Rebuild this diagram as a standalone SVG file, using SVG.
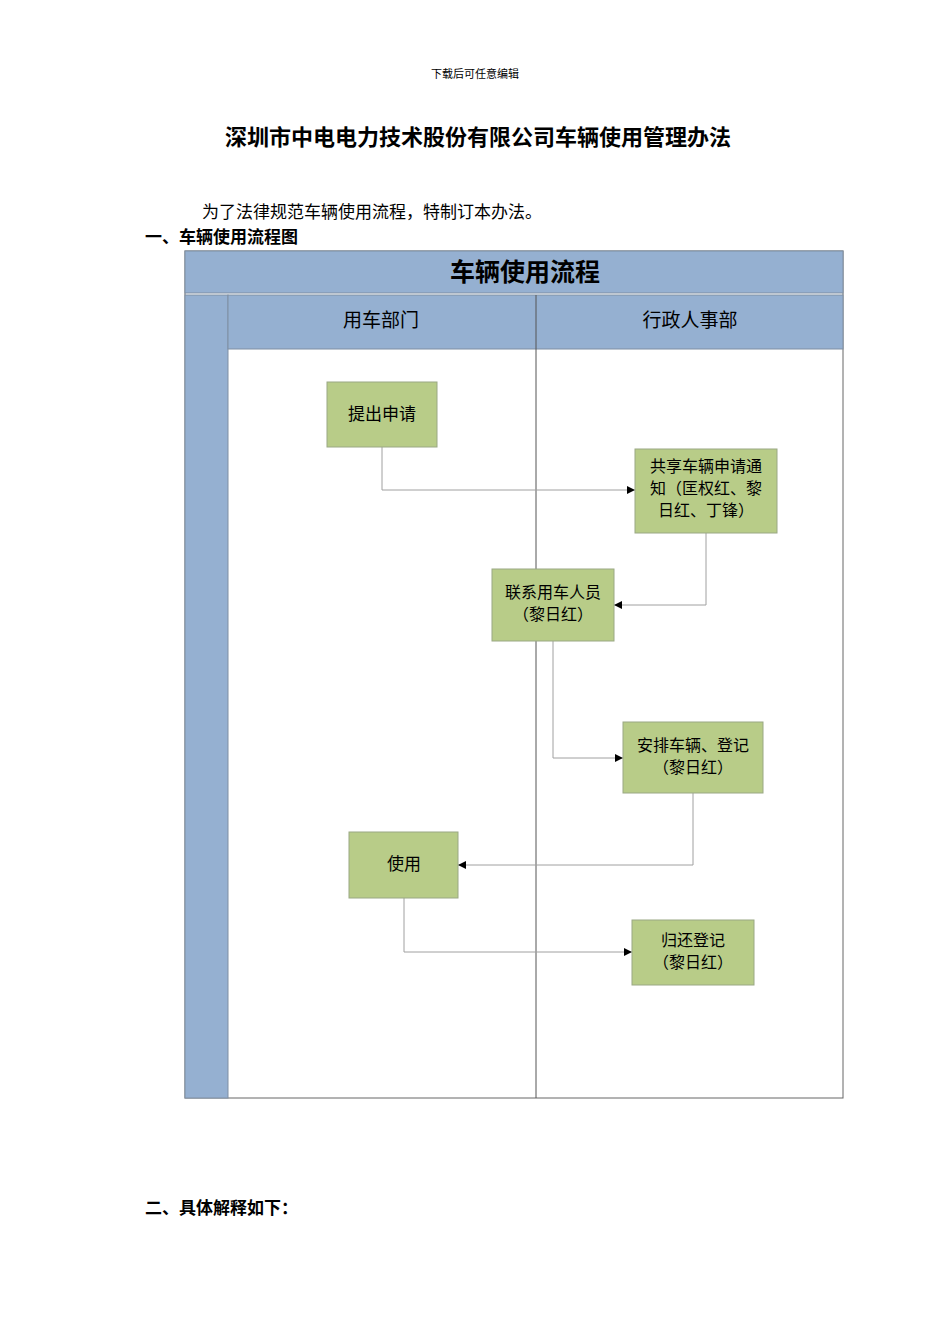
<svg xmlns="http://www.w3.org/2000/svg" width="950" height="1344" viewBox="0 0 950 1344">
<style>
.t{font-family:"Noto Sans CJK SC","Noto Sans",sans-serif;fill:#000}
.s{font-family:"Noto Sans CJK SC",serif}
.n{fill:#b8cc88;stroke:#9aa884;stroke-width:1}
.c{fill:none;stroke:#a0a0a0;stroke-width:1}
.bl{fill:#95b0d1;stroke:#7f8fa3;stroke-width:1}
</style>
<defs><marker id="a" markerWidth="8" markerHeight="8" refX="8" refY="4" orient="auto" markerUnits="userSpaceOnUse"><path d="M0,0L8,4L0,8z" fill="#000"/></marker></defs>
<rect width="950" height="1344" fill="#fff"/>
<text x="475" y="78" font-size="11" text-anchor="middle" class="t s" fill="#333">下载后可任意编辑</text>
<text x="478" y="145" font-size="22" font-weight="bold" text-anchor="middle" class="t s">深圳市中电电力技术股份有限公司车辆使用管理办法</text>
<text x="202" y="218" font-size="17" class="t s">为了法律规范车辆使用流程，特制订本办法。</text>
<text x="145" y="243" font-size="17" font-weight="bold" class="t s">一、车辆使用流程图</text>
<text x="145" y="1214" font-size="17" font-weight="bold" class="t s">二、具体解释如下：</text>
<g id="pool">
<rect x="185" y="251" width="658" height="847" fill="#fff" stroke="#666"/>
<rect x="185" y="251" width="658" height="42" class="bl"/>
<text x="525" y="281" font-size="25" font-weight="bold" text-anchor="middle" class="t">车辆使用流程</text>
<rect x="185" y="295" width="43" height="803" class="bl"/>
<rect x="228" y="295" width="615" height="54" class="bl"/>
<line x1="536" y1="295" x2="536" y2="1098" stroke="#555"/>
<text x="381" y="327" font-size="19" text-anchor="middle" class="t" fill="#333">用车部门</text>
<text x="690" y="327" font-size="19" text-anchor="middle" class="t" fill="#333">行政人事部</text>
</g>
<g id="connectors">
<path class="c" d="M382,447V490H635" marker-end="url(#a)"/>
<path class="c" d="M706,533V605H614" marker-end="url(#a)"/>
<path class="c" d="M553,641V758H623" marker-end="url(#a)"/>
<path class="c" d="M693,793V865H458" marker-end="url(#a)"/>
<path class="c" d="M404,898V952H632" marker-end="url(#a)"/>
</g>
<g id="n1"><rect x="327" y="382" width="110" height="65" class="n"/><text x="382" y="420" font-size="17" text-anchor="middle" class="t">提出申请</text></g>
<g id="n2"><rect x="635" y="449" width="142" height="84" class="n"/><text x="706" y="472" font-size="16" text-anchor="middle" class="t">共享车辆申请通</text><text x="706" y="494" font-size="16" text-anchor="middle" class="t">知（匡权红、黎</text><text x="706" y="516" font-size="16" text-anchor="middle" class="t">日红、丁锋）</text></g>
<g id="n3"><rect x="492" y="569" width="122" height="72" class="n"/><text x="553" y="598" font-size="16" text-anchor="middle" class="t">联系用车人员</text><text x="553" y="620" font-size="16" text-anchor="middle" class="t">（黎日红）</text></g>
<g id="n4"><rect x="623" y="722" width="140" height="71" class="n"/><text x="693" y="751" font-size="16" text-anchor="middle" class="t">安排车辆、登记</text><text x="693" y="773" font-size="16" text-anchor="middle" class="t">（黎日红）</text></g>
<g id="n5"><rect x="349" y="832" width="109" height="66" class="n"/><text x="404" y="870" font-size="17" text-anchor="middle" class="t">使用</text></g>
<g id="n6"><rect x="632" y="920" width="122" height="65" class="n"/><text x="693" y="946" font-size="16" text-anchor="middle" class="t">归还登记</text><text x="693" y="968" font-size="16" text-anchor="middle" class="t">（黎日红）</text></g>
</svg>
